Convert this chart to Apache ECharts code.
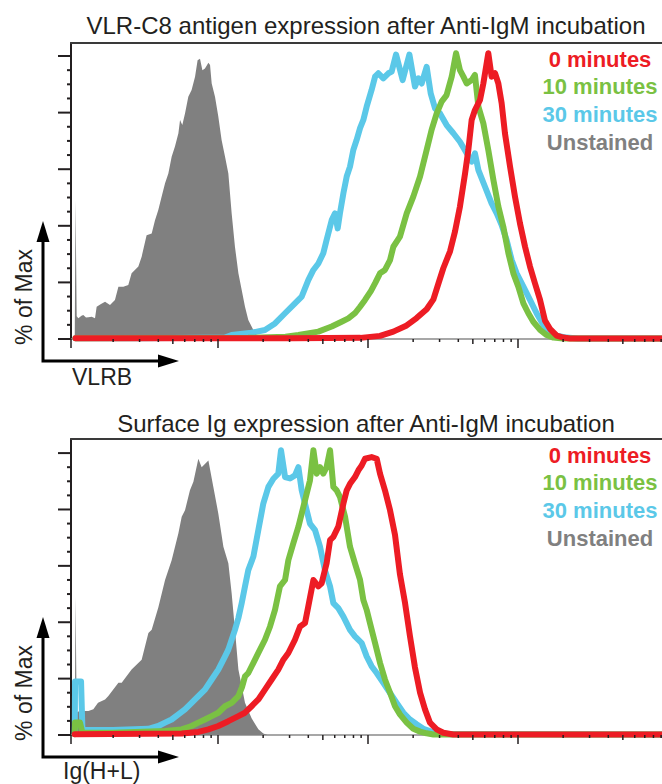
<!DOCTYPE html>
<html><head><meta charset="utf-8">
<script src="https://cdn.jsdelivr.net/npm/echarts@6/dist/echarts.min.js"></script>
<style>html,body{margin:0;padding:0;background:#fff}#c{width:662px;height:784px}</style>
</head><body><div id="c"></div>
<script>
// x values: log10 fluorescence (display decades); y values: % of Max
const seriesNames = ['0 minutes', '10 minutes', '30 minutes', 'Unstained'];
const panelTitles = ['VLR-C8 antigen expression after Anti-IgM incubation', 'Surface Ig expression after Anti-IgM incubation'];
const xAxisNames = ['VLRB', 'Ig(H+L)'];
const yAxisName = '% of Max';
const xRange = [1.02, 4.96];
const yMaxTop = 104.6, yMaxBottom = 105;
const xTickDecades = [1, 2, 3, 4];
const xMinorMultipliers = [2, 3, 4, 5, 6, 7, 8, 9];
const yMajorTicks = [0, 20, 40, 60, 80, 100];
const yMinorTicks = [5, 10, 15, 25, 30, 35, 45, 50, 55, 65, 70, 75, 85, 90, 95];

// ---- top panel (VLRB) ----
const unstainedTop = [[1.045,0],[1.05,49],[1.058,8],[1.069,7.3],[1.09,8.2],[1.102,8.5],[1.12,7.6],[1.136,7.7],[1.158,7.9],[1.18,7.3],[1.191,11.4],[1.22,12.4],[1.247,13.2],[1.28,12],[1.313,13.8],[1.336,18.5],[1.369,18.5],[1.402,19.1],[1.424,23.2],[1.469,25.6],[1.491,29.1],[1.524,36.7],[1.558,37.3],[1.58,42],[1.602,45.6],[1.624,50.3],[1.647,55],[1.669,58.5],[1.691,64.4],[1.713,68],[1.736,72.7],[1.747,77.4],[1.762,75.6],[1.78,79.7],[1.802,85.6],[1.824,88],[1.847,92.7],[1.864,98.5],[1.88,99],[1.896,95],[1.913,95.6],[1.936,97.6],[1.947,96.8],[1.958,90.3],[1.98,85.6],[2.002,78.6],[2.024,70.3],[2.047,64.4],[2.069,58.5],[2.091,44.4],[2.113,32.6],[2.136,23.2],[2.158,17.3],[2.18,11.4],[2.202,6.7],[2.224,4.4],[2.247,2],[2.28,0]];
const min30Top = [[1.05,0.3],[1.5,0.3],[1.9,0.4],[2.047,0.5],[2.091,1.4],[2.224,2.2],[2.313,3.2],[2.38,5.5],[2.447,9.1],[2.513,12.6],[2.558,15],[2.602,20.8],[2.636,24.4],[2.669,26.7],[2.702,30.3],[2.724,35],[2.758,42],[2.78,44.4],[2.798,39.1],[2.813,44.4],[2.836,51.5],[2.858,57.4],[2.88,60.9],[2.902,66.8],[2.924,70.3],[2.947,74.5],[2.969,77.4],[2.991,82.1],[3.024,88],[3.047,92.7],[3.069,93.9],[3.102,92.1],[3.136,93.9],[3.158,94.5],[3.187,100.5],[3.231,91.5],[3.276,100.5],[3.313,89.2],[3.336,92.1],[3.358,90.3],[3.391,96.2],[3.418,86.8],[3.447,81.5],[3.48,79.7],[3.524,75.6],[3.569,72.7],[3.613,69.7],[3.658,65.6],[3.691,62.7],[3.713,65.6],[3.736,59.7],[3.78,53.8],[3.824,47.9],[3.858,44.4],[3.891,40.3],[3.924,35],[3.958,27.9],[3.991,23.2],[4.036,18.5],[4.08,13.8],[4.124,9.1],[4.169,4.9],[4.213,2.6],[4.258,1.2],[4.324,0.5],[4.4,0.2],[4.96,0.2]];
const min10Top = [[1.05,0.3],[2.2,0.4],[2.45,0.8],[2.536,1.4],[2.669,2.6],[2.758,4.4],[2.824,6.1],[2.869,7.3],[2.913,9.1],[2.947,11.4],[2.98,13.8],[3.02,17],[3.05,20],[3.08,23.2],[3.113,24.4],[3.147,27.9],[3.169,32.6],[3.213,36.2],[3.258,44.4],[3.302,50.3],[3.347,57.4],[3.391,66.8],[3.424,73.9],[3.458,79.7],[3.491,83.9],[3.524,86.2],[3.558,92.7],[3.587,101],[3.613,95],[3.636,92.7],[3.658,90.3],[3.691,91.5],[3.713,93.3],[3.736,82.1],[3.769,76.2],[3.802,66.8],[3.836,56.2],[3.869,46.8],[3.902,39.7],[3.936,30.3],[3.969,23.2],[4.002,18.5],[4.036,12.6],[4.069,9.1],[4.102,6.1],[4.147,3.2],[4.191,1.4],[4.236,0.5],[4.3,0.2],[4.96,0.2]];
const min0Top = [[1.05,0.3],[2.5,0.3],[2.95,0.4],[3.08,1.1],[3.169,2.6],[3.258,4.8],[3.324,7.4],[3.391,10.5],[3.436,14],[3.47,19.7],[3.502,25],[3.547,31],[3.58,38],[3.613,46.8],[3.647,58.5],[3.669,66.8],[3.691,77.4],[3.713,80.9],[3.747,84.5],[3.769,90.3],[3.802,101],[3.824,92.7],[3.847,93.9],[3.869,90.3],[3.891,83.3],[3.913,72.7],[3.947,60.9],[3.98,50.3],[4.013,40.9],[4.047,32.6],[4.08,25.6],[4.113,19.7],[4.147,13.8],[4.18,6.5],[4.213,3.6],[4.258,1.2],[4.302,0.5],[4.347,0.2],[4.96,0.2]];

// ---- bottom panel (Ig(H+L)) ----
const unstainedBottom = [[1.045,0],[1.05,49],[1.058,8],[1.08,8.6],[1.102,8.5],[1.136,8.5],[1.169,9.1],[1.2,11.4],[1.247,12.6],[1.269,13.8],[1.336,18.5],[1.358,18.5],[1.424,23.2],[1.491,26.7],[1.536,36.2],[1.558,37.3],[1.602,45.2],[1.647,55],[1.691,62],[1.736,71.6],[1.758,77.4],[1.78,79.7],[1.813,86.8],[1.836,89.8],[1.869,98],[1.891,95],[1.936,97.4],[1.969,88],[2.002,78.6],[2.036,66.8],[2.069,60.9],[2.091,50.3],[2.113,37.3],[2.136,23.2],[2.18,11.4],[2.224,5.9],[2.269,2],[2.302,0.5],[2.33,0]];
const min30Bottom = [[1.045,0.5],[1.047,19],[1.087,19],[1.096,2],[1.113,1.8],[1.3,1.8],[1.536,2.2],[1.602,3.2],[1.647,4.4],[1.691,5.5],[1.736,7.3],[1.78,9.1],[1.824,11.4],[1.869,13.8],[1.913,16.1],[1.958,19.7],[2.002,23.2],[2.047,27.9],[2.069,30.3],[2.091,33.8],[2.113,37.3],[2.136,41.5],[2.158,46.8],[2.18,52.7],[2.202,58.5],[2.236,63.3],[2.269,72.7],[2.302,82.1],[2.336,88],[2.369,90.9],[2.402,92.7],[2.42,101],[2.447,91.5],[2.48,91],[2.513,92.1],[2.536,95],[2.558,86.8],[2.58,82.1],[2.613,75],[2.647,72.7],[2.68,66.8],[2.713,58.5],[2.747,52.7],[2.769,46.8],[2.802,45],[2.836,42],[2.88,37.3],[2.913,35],[2.958,32.6],[2.991,27.9],[3.024,24.4],[3.058,22],[3.102,18.5],[3.147,14.9],[3.191,11.4],[3.236,7.9],[3.28,5.5],[3.324,3.8],[3.369,2.2],[3.413,1.4],[3.458,0.8],[3.55,0.3],[4.96,0.2]];
const min10Bottom = [[1.045,0.3],[1.047,4.4],[1.08,4.4],[1.096,0.8],[1.3,0.8],[1.647,1.4],[1.758,2],[1.824,3.2],[1.869,4.4],[1.913,5.5],[1.958,6.7],[2.002,7.9],[2.047,10.2],[2.091,11.4],[2.136,13.8],[2.16,17],[2.18,20.8],[2.202,22],[2.236,25.6],[2.269,29.1],[2.313,33.8],[2.347,38.5],[2.38,44.4],[2.413,52.7],[2.447,55],[2.469,62],[2.502,68],[2.536,73.9],[2.569,80.9],[2.591,85.6],[2.613,90.3],[2.636,101],[2.658,92.7],[2.68,95],[2.702,92.7],[2.724,95],[2.747,101],[2.769,88],[2.791,86.8],[2.813,84.5],[2.847,77.4],[2.88,66.8],[2.913,60.9],[2.947,55],[2.969,47.9],[2.991,44.4],[3.013,39.7],[3.047,32.6],[3.08,25.6],[3.113,19.7],[3.147,15],[3.18,10.2],[3.213,7.3],[3.258,4.4],[3.302,2.2],[3.347,1.2],[3.391,0.6],[3.436,0.2],[4.96,0.2]];
const min0Bottom = [[1.045,0.3],[1.758,0.5],[1.869,1.1],[1.936,2],[2.002,3.2],[2.069,4.9],[2.136,6.7],[2.18,7.9],[2.224,10.2],[2.269,12.6],[2.313,16.1],[2.358,19.7],[2.402,23.2],[2.436,26.7],[2.469,29.1],[2.513,33.8],[2.547,38.5],[2.58,39.7],[2.602,45.6],[2.636,55],[2.669,52.7],[2.691,53.8],[2.724,60.9],[2.747,69.1],[2.769,70.3],[2.802,73.9],[2.836,82.1],[2.858,86.8],[2.88,89.1],[2.913,91.5],[2.936,93.9],[2.958,95.6],[2.98,98],[3.024,98.6],[3.058,98],[3.08,92.7],[3.113,86.8],[3.147,79.7],[3.18,71],[3.213,57],[3.247,46.8],[3.28,35],[3.313,24],[3.347,15],[3.38,9.1],[3.413,4.4],[3.458,2],[3.502,0.8],[3.569,0.2],[4.96,0.2]];

// ---- styles ----
const colors = {'0 minutes': '#ed1c24', '10 minutes': '#7ac143', '30 minutes': '#5bc8e8', 'Unstained': '#808080'};
const FONT = '"Liberation Sans", Arial, Helvetica, sans-serif';
const ink = '#231f20';

// tick lists (built from the tick arrays above)
const xTicks = [[xRange[0], 0]];
xTickDecades.forEach(e => {
  if (e >= xRange[0] && e <= xRange[1]) xTicks.push([e, 0]);
  xMinorMultipliers.forEach(m => {
    const v = e + Math.log10(m);
    if (v > xRange[0] && v < xRange[1]) xTicks.push([v, m === 5 ? 1 : 2]);
  });
});
const yTicks = yMajorTicks.map(v => [xRange[0], v, 0]).concat(yMinorTicks.map(v => [xRange[0], v, 1]));

const chart = echarts.init(document.getElementById('c'), null, {renderer: 'svg'});

const grids = [
  {left: 71, top: 43, width: 591, height: 296},
  {left: 71, top: 439, width: 591, height: 296}
];
const xAxes = [], yAxes = [], series = [];
const panels = [
  {ymax: yMaxTop, data: {'Unstained': unstainedTop, '30 minutes': min30Top, '10 minutes': min10Top, '0 minutes': min0Top}},
  {ymax: yMaxBottom, data: {'Unstained': unstainedBottom, '30 minutes': min30Bottom, '10 minutes': min10Bottom, '0 minutes': min0Bottom}}
];
panels.forEach((p, gi) => {
  xAxes.push({gridIndex: gi, type: 'value', min: xRange[0], max: xRange[1], position: 'bottom',
    axisLine: {onZero: false, lineStyle: {color: '#8a8a8a', width: 1.5}}, axisTick: {show: false}, axisLabel: {show: false}, splitLine: {show: false}});
  xAxes.push({gridIndex: gi, type: 'value', min: xRange[0], max: xRange[1], position: 'top',
    axisLine: {onZero: false, lineStyle: {color: '#3a3a3a', width: 2}}, axisTick: {show: false}, axisLabel: {show: false}, splitLine: {show: false}});
  yAxes.push({gridIndex: gi, type: 'value', min: 0, max: p.ymax,
    axisLine: {show: true, onZero: false, lineStyle: {color: ink, width: 2}}, axisTick: {show: false}, axisLabel: {show: false}, splitLine: {show: false}});
  const xi = gi * 2, yi = gi;
  series.push({name: 'Unstained', type: 'line', xAxisIndex: xi, yAxisIndex: yi, data: p.data['Unstained'],
    symbol: 'none', lineStyle: {width: 0}, areaStyle: {color: colors['Unstained'], opacity: 1}, z: 2});
  ['30 minutes', '10 minutes', '0 minutes'].forEach((n, k) => {
    series.push({name: n, type: 'line', xAxisIndex: xi, yAxisIndex: yi, data: p.data[n], symbol: 'none',
      lineStyle: {width: 6, color: colors[n], join: 'round', cap: 'round'}, itemStyle: {color: colors[n]}, z: 3 + k});
  });
  series.push({type: 'custom', xAxisIndex: xi, yAxisIndex: yi, data: xTicks, silent: true, z: 10,
    renderItem: (params, api) => {
      const pt = api.coord([api.value(0), 0]);
      const len = [9, 5, 3][api.value(1)];
      return {type: 'line', shape: {x1: pt[0], y1: pt[1], x2: pt[0], y2: pt[1] + len}, style: {stroke: ink, lineWidth: 1.5}};
    }});
  series.push({type: 'custom', xAxisIndex: xi, yAxisIndex: yi, data: yTicks, silent: true, z: 10,
    renderItem: (params, api) => {
      const pt = api.coord([api.value(0), api.value(1)]);
      const len = api.value(2) === 0 ? 13 : 4;
      return {type: 'line', shape: {x1: pt[0] - len, y1: pt[1], x2: pt[0], y2: pt[1]}, style: {stroke: ink, lineWidth: 2}};
    }});
});

// text + decorations
const graphic = [];
const legendOrder = ['0 minutes', '10 minutes', '30 minutes', 'Unstained'];
[0, 396].forEach((dy, gi) => {
  graphic.push({type: 'text', x: 366, y: 25 + dy + (gi ? 2 : 0), style: {text: panelTitles[gi], font: '24px ' + FONT, fill: ink, align: 'center', verticalAlign: 'middle'}});
  legendOrder.forEach((n, i) => {
    graphic.push({type: 'text', x: 600, y: 59 + dy + i * 27.8, style: {text: n, font: 'bold 22px ' + FONT, fill: colors[n], align: 'center', verticalAlign: 'middle'}});
  });
  graphic.push({type: 'polyline', shape: {points: [[43, 238 + dy], [43, 361 + dy], [162, 361 + dy]]}, style: {stroke: '#000', lineWidth: 3, fill: null}});
  graphic.push({type: 'polygon', shape: {points: [[43, 221 + dy], [36.5, 242 + dy], [49.5, 242 + dy]]}, style: {fill: '#000'}});
  graphic.push({type: 'polygon', shape: {points: [[179, 361 + dy], [158, 354.5 + dy], [158, 367.5 + dy]]}, style: {fill: '#000'}});
  graphic.push({type: 'text', x: 24, y: 297 + dy, rotation: Math.PI / 2, style: {text: yAxisName, font: '23px ' + FONT, fill: ink, align: 'center', verticalAlign: 'middle'}});
  graphic.push({type: 'text', x: gi ? 63 : 72, y: gi ? 771 : 376.5, style: {text: xAxisNames[gi], font: '23px ' + FONT, fill: ink, align: 'left', verticalAlign: 'middle'}});
});

chart.setOption({
  animation: false,
  backgroundColor: '#fff',
  grid: grids,
  xAxis: xAxes,
  yAxis: yAxes,
  series: series,
  graphic: graphic
});
</script></body></html>
